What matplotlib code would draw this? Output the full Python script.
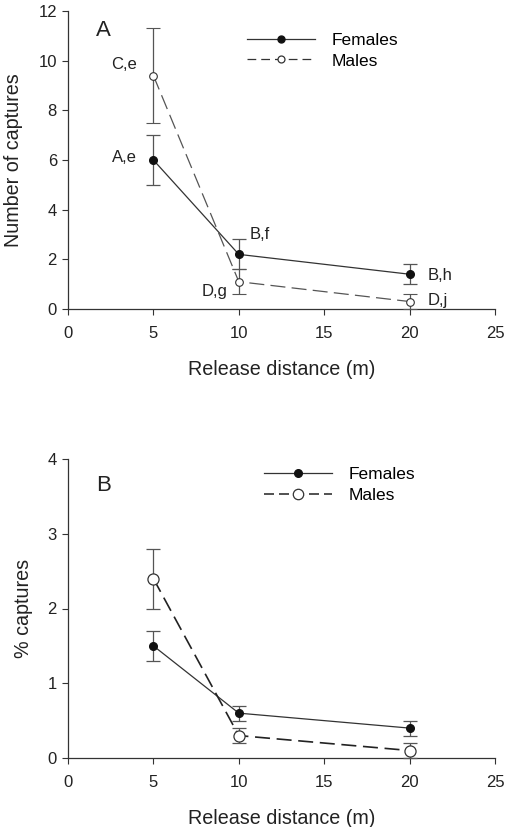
import numpy as np
import matplotlib
matplotlib.use('Agg')
import matplotlib.pyplot as plt
from matplotlib.lines import Line2D

plt.rcParams['font.family'] = ['Liberation Sans', 'DejaVu Sans']

distance = [5, 10, 20]

# Panel A: number of captures
fem_n = [6.0, 2.2, 1.4]
fem_n_err = [1.0, 0.6, 0.4]
mal_n = [9.4, 1.1, 0.3]
mal_n_err = [1.9, 0.5, 0.3]
fem_labels = ['A,e', 'B,f', 'B,h']
mal_labels = ['C,e', 'D,g', 'D,j']

# Panel B: % captures
fem_pc = [1.5, 0.6, 0.4]
fem_pc_err = [0.2, 0.1, 0.1]
mal_pc = [2.4, 0.3, 0.1]
mal_pc_err = [0.4, 0.1, 0.1]

xticks = [0, 5, 10, 15, 20, 25]

W, H = 509, 827
fig = plt.figure(figsize=(W / 100, H / 100), dpi=100)
TXT = '#222222'


def px_axes(l, t, r, b):
    return fig.add_axes([l / W, 1 - b / H, (r - l) / W, (b - t) / H])


def style(ax, ylim, yticks, ylabel, ylab_x):
    ax.set_xlim(0, 25)
    ax.set_ylim(*ylim)
    ax.set_xticks(xticks)
    ax.set_yticks(yticks)
    for s in ['top', 'right']:
        ax.spines[s].set_visible(False)
    for s in ['left', 'bottom']:
        ax.spines[s].set_color('#333333')
        ax.spines[s].set_linewidth(0.9)
    ax.tick_params(direction='out', length=4, width=0.8, colors='#333333',
                   labelsize=12, labelcolor=TXT)
    ax.tick_params(axis='x', pad=8)
    ax.tick_params(axis='y', pad=4)
    ax.set_xlabel('Release distance (m)', fontsize=14.2, color=TXT,
                  labelpad=14)
    ax.set_ylabel(ylabel, fontsize=14.2, color=TXT)
    ax.yaxis.set_label_coords(ylab_x, 0.5)


def legend(ax, ms_f, ms_m, dash, lw_m, anchor):
    h = [Line2D([], [], color='#333333', lw=0.9, marker='o', ms=ms_f,
                mfc='#111111', mec='#111111'),
         Line2D([], [], color='#333333', lw=lw_m, ls=dash, marker='o',
                ms=ms_m, mfc='white', mec='#333333', mew=0.9)]
    ax.legend(h, ['Females', 'Males'], loc='upper left', bbox_to_anchor=anchor,
              frameon=False, fontsize=12.5, handlelength=3.9,
              handletextpad=1.0, labelspacing=0.3, borderpad=0,
              borderaxespad=0)


# ---- Panel A ----
ax1 = px_axes(68, 11, 495, 309)
ax1.errorbar(distance, fem_n, yerr=fem_n_err, color='#333333', lw=0.9,
             marker='o', ms=5.5, mfc='#111111', mec='#111111', ecolor='#555555',
             elinewidth=0.9, capsize=5, capthick=0.9,
             clip_on=False, zorder=3)
ax1.errorbar(distance, mal_n, yerr=mal_n_err, color='#555555', lw=0.9,
             ls=(0, (12, 5)), marker='o', ms=5.5, mfc='white', mec='#333333',
             mew=0.8, ecolor='#555555', elinewidth=0.9, capsize=5,
             capthick=0.9, clip_on=False, zorder=3)
style(ax1, (0, 12), [0, 2, 4, 6, 8, 10, 12], 'Number of captures', -0.105)
ax1.text(1.65, 11.0, 'A', fontsize=16, color=TXT)

offs_f = [(-12, 2, 'right'), (8, 14, 'left'), (13, -1, 'left')]
offs_m = [(-12, 8, 'right'), (-8, -7, 'right'), (13, 1, 'left')]
for x, y, lab, (dx, dy, ha) in zip(distance, fem_n, fem_labels, offs_f):
    ax1.annotate(lab, (x, y), xytext=(dx, dy), textcoords='offset points',
                 ha=ha, va='center', fontsize=12, color=TXT)
for x, y, lab, (dx, dy, ha) in zip(distance, mal_n, mal_labels, offs_m):
    ax1.annotate(lab, (x, y), xytext=(dx, dy), textcoords='offset points',
                 ha=ha, va='center', fontsize=12, color=TXT)

legend(ax1, 5, 5, (0, (7, 4)), 0.9, (0.419, 0.926))

# ---- Panel B ----
ax2 = px_axes(68, 459, 495, 758)
ax2.errorbar(distance, fem_pc, yerr=fem_pc_err, color='#333333', lw=0.9,
             marker='o', ms=5.5, mfc='#111111', mec='#111111', ecolor='#555555',
             elinewidth=0.9, capsize=5, capthick=0.9,
             clip_on=False, zorder=3)
ax2.errorbar(distance, mal_pc, yerr=mal_pc_err, color='#222222', lw=1.2,
             ls=(0, (9, 4)), marker='o', ms=8, mfc='white', mec='#333333',
             mew=0.9, ecolor='#555555', elinewidth=0.9, capsize=5,
             capthick=0.9, clip_on=False, zorder=3)
style(ax2, (0, 4), [0, 1, 2, 3, 4], '% captures', -0.082)
ax2.text(1.65, 3.57, 'B', fontsize=16, color=TXT)
legend(ax2, 5.5, 7.5, (0, (6, 3)), 1.2, (0.459, 0.973))

fig.savefig('out.png', dpi=100)
